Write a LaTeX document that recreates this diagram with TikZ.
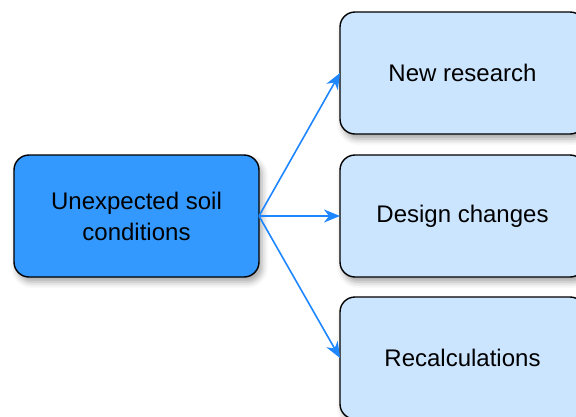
\documentclass[tikz,border=0pt]{standalone}
\usepackage{fontspec}
\setmainfont{Liberation Sans}
\usetikzlibrary{arrows.meta,shadows.blur}
\definecolor{mainblue}{HTML}{3399FF}
\definecolor{lightblue}{HTML}{CCE5FF}
\definecolor{arrowblue}{HTML}{1E86FF}
\begin{document}
\begin{tikzpicture}[x=1pt,y=-1pt,
  box/.style={draw=black, line width=1.4pt, rounded corners=15pt,
    minimum width=245pt, minimum height=122pt, inner sep=0pt, outer sep=0pt,
    align=center, font=\fontsize{24}{31}\selectfont,
    blur shadow={shadow xshift=3pt, shadow yshift=-5pt, shadow blur radius=6pt, shadow opacity=35}},
  srcbox/.style={box, fill=mainblue},
  tgtbox/.style={box, fill=lightblue},
  conn/.style={draw=arrowblue, line width=1.6pt, -{Stealth[length=16pt,width=13pt,inset=5pt]}}
]
\useasboundingbox (0,0) rectangle (576,416);
\clip (0,0) rectangle (576,416);
\node[srcbox] (src) at (136.5,216) {Unexpected soil\\conditions};
\node[tgtbox] (t1) at (462.5,73) {New research};
\node[tgtbox] (t2) at (462.5,216) {Design changes};
\node[tgtbox] (t3) at (462.5,358) {Recalculations};
\draw[conn] (src.east) -- (t1.west);
\draw[conn] (src.east) -- (t2.west);
\draw[conn] (src.east) -- (t3.west);
\end{tikzpicture}
\end{document}
